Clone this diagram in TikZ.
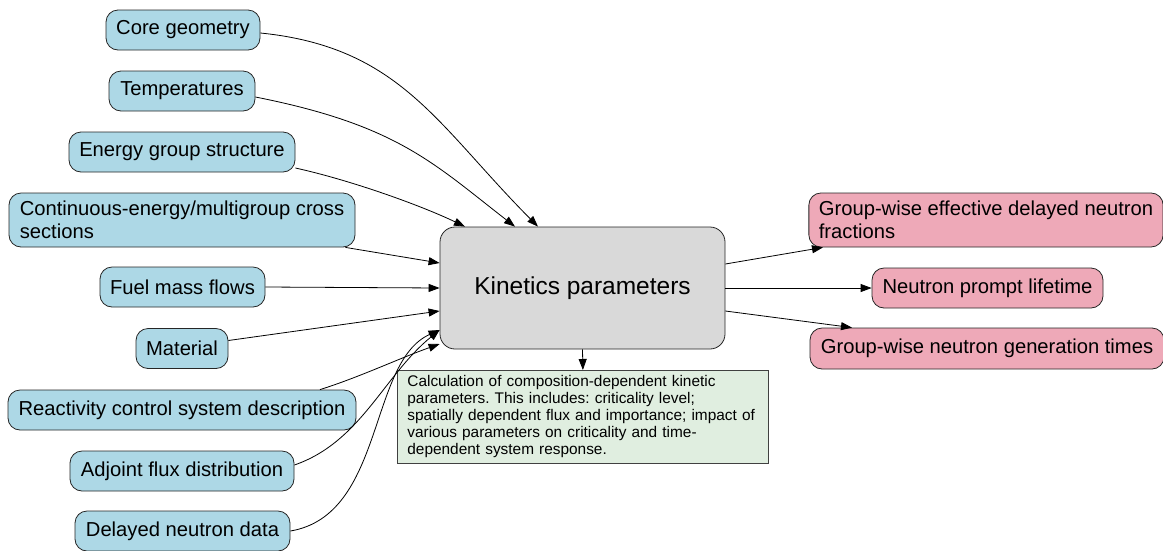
\documentclass[tikz,border=0pt]{standalone}
\usepackage{fontspec}
\setmainfont{Liberation Sans}
\usetikzlibrary{arrows.meta,calc}

\definecolor{inblue}{HTML}{ADD8E6}
\definecolor{outpink}{HTML}{EEA9B8}
\definecolor{hubgray}{HTML}{D9D9D9}
\definecolor{notegreen}{HTML}{E0EEE0}

\frenchspacing

\begin{document}
\begin{tikzpicture}[x=1pt,y=-1pt,
  basebox/.style={draw=black!85, line width=0.8pt, rounded corners=12pt,
    inner ysep=0pt, inner xsep=10pt, minimum height=40pt,
    font=\fontsize{20.2}{23}\selectfont},
  inbox/.style={basebox, fill=inblue},
  outbox/.style={basebox, fill=outpink},
  hub/.style={draw=black!85, line width=0.8pt, fill=hubgray, rounded corners=15pt,
    inner sep=0pt, font=\fontsize{24.5}{28}\selectfont},
  notebox/.style={draw=black!75, line width=0.8pt, fill=notegreen, inner ysep=0pt,
    inner xsep=10pt, align=left, font=\fontsize{15.4}{17}\selectfont},
  link/.style={line width=0.8pt, -{Triangle[length=11pt,width=8pt]}}]

\useasboundingbox (0,0) rectangle (1163,550);

% inputs
\node[inbox, minimum width=154pt] (core)   at (183,30)    {Core geometry};
\node[inbox, minimum width=146pt] (temp)   at (182,91)    {Temperatures};
\node[inbox, minimum width=226pt] (energy) at (182,152)   {Energy group structure};
\node[inbox, minimum height=54pt, minimum width=346pt, align=left] (xs) at (182,220)
  {Continuous-energy/multigroup cross\\sections};
\node[inbox, minimum width=165pt] (fuel)   at (182.5,287) {Fuel mass flows};
\node[inbox, minimum width=92pt]  (mat)    at (182,348.5) {Material};
\node[inbox, minimum width=348pt] (react)  at (182,410)   {Reactivity control system description};
\node[inbox, minimum width=224pt] (adj)    at (182,471)   {Adjoint flux distribution};
\node[inbox, minimum width=215pt] (dnd)    at (182.5,531) {Delayed neutron data};

% central process
\node[hub, minimum width=285pt, minimum height=122pt] (kin) at (582.5,288) {Kinetics parameters};

% outputs
\node[outbox, minimum height=54pt, minimum width=354pt, align=left] (frac) at (986,220)
  {Group-wise effective delayed neutron\\fractions};
\node[outbox, minimum width=231pt] (life) at (987.5,288)   {Neutron prompt lifetime};
\node[outbox, minimum width=354pt, minimum height=41pt] (gen) at (987,348.5) {Group-wise neutron generation times};

% description
\node[notebox, anchor=north west, text width=351pt, minimum height=93pt] (note) at (397,370)
  {Calculation of composition-dependent kinetic\\
   parameters. This includes: criticality level;\\
   spatially dependent flux and importance; impact of\\
   various parameters on criticality and time-\\
   dependent system response.};

% input connectors
\draw[link] ([yshift=-3pt]core.east) .. controls (400,47) and (437,125) .. ([xshift=-44.5pt]kin.north);
\draw[link] ([yshift=-6pt]temp.east) .. controls (397,125) and (433,163) .. ([xshift=-67.5pt]kin.north);
\draw[link] ([yshift=-16pt]energy.east) .. controls (350,180) and (420,205) .. ([xshift=-117.5pt]kin.north);
\draw[link] ([xshift=-10pt]xs.south east) -- ([yshift=25pt]kin.west);
\draw[link] (fuel.east) -- (kin.west);
\draw[link] ([yshift=8pt]mat.east) -- ([yshift=-23pt]kin.west);
\draw[link] ([xshift=138pt]react.north) .. controls (360,377) and (400,358) .. ([yshift=-56pt]kin.west);
\draw[link] ([yshift=6pt]adj.east) .. controls (361,442) and (384,375) .. ([yshift=-42pt]kin.west);
\draw[link] (dnd.east) .. controls (385,515) and (368,362) .. ([yshift=-42pt]kin.west);

% output connectors
\draw[link] ([yshift=24pt]kin.east) -- ([xshift=-163pt]frac.south);
\draw[link] (kin.east) -- (life.west);
\draw[link] ([yshift=-23pt]kin.east) -- ([xshift=-135pt]gen.north);
\draw[link] (kin.south) -- (note.north);

\end{tikzpicture}
\end{document}
